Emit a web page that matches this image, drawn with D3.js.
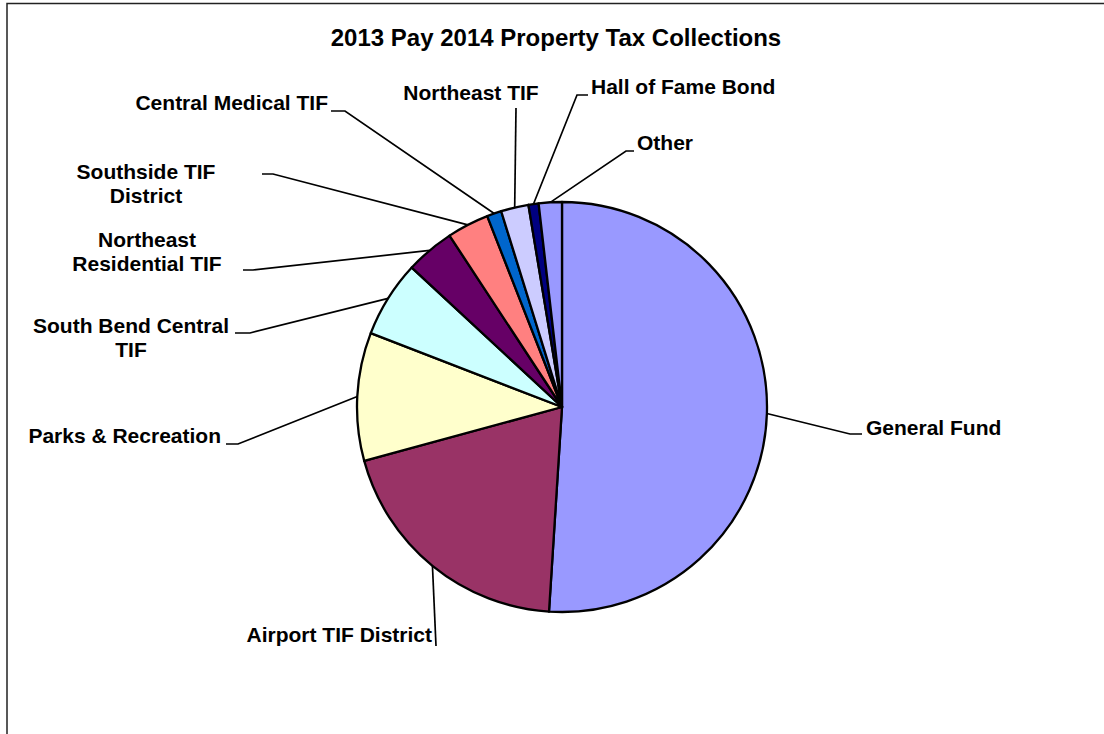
<!DOCTYPE html>
<html>
<head>
<meta charset="utf-8">
<script src="https://cdn.jsdelivr.net/npm/d3@7"></script>
<style>
  body { margin: 0; background: #fff; }
  svg text { font-family: "Liberation Sans", Arial, sans-serif; font-weight: bold; fill: #000; }
</style>
</head>
<body>
<svg width="1104" height="734"></svg>
<script>
// slice data, clockwise from 12 o'clock (percent of total)
const categories = ["General Fund", "Airport TIF District", "Parks & Recreation", "South Bend Central TIF",
  "Northeast Residential TIF", "Southside TIF District", "Central Medical TIF", "Northeast TIF",
  "Hall of Fame Bond", "Other"];
const values = [51.0, 19.75, 10.1, 6.04, 3.85, 3.3, 1.15, 2.17, 0.8, 1.82];
const fills = ["#9999FF", "#993366", "#FFFFCC", "#CCFFFF", "#660066", "#FF8080", "#0066CC", "#CCCCFF", "#000080", "#9999FF"];

// label layout: text lines, anchor, baselines, and the elbow point of the leader + horizontal stub
const labelLines = [["General Fund"], ["Airport TIF District"], ["Parks & Recreation"], ["South Bend Central", "TIF"],
  ["Northeast", "Residential TIF"], ["Southside TIF", "District"], ["Central Medical TIF"], ["Northeast TIF"],
  ["Hall of Fame Bond"], ["Other"]];
const labelPos = [
  { x: 866, y: 435, anchor: "start", elbow: [850, 434], stub: 862 },
  { x: 432, y: 642, anchor: "end", elbow: [436, 646], stub: null },
  { x: 221, y: 443, anchor: "end", elbow: [238, 444], stub: 226 },
  { x: 131, y: 333, anchor: "middle", elbow: [250, 333], stub: 235 },
  { x: 147, y: 247, anchor: "middle", elbow: [253, 270], stub: 243 },
  { x: 146, y: 179, anchor: "middle", elbow: [273, 174], stub: 262 },
  { x: 328, y: 110, anchor: "end", elbow: [345, 111], stub: 331 },
  { x: 471, y: 100, anchor: "middle", elbow: [516, 108], stub: null },
  { x: 591, y: 94, anchor: "start", elbow: [577, 95], stub: 588 },
  { x: 637, y: 150, anchor: "start", elbow: [626, 151], stub: 634 }
];

const svg = d3.select("svg");
const cx = 562, cy = 407, R = 205;

// outer frame (partly cut off at right/bottom)
svg.append("rect").attr("x", 7).attr("y", 3.5).attr("width", 1200).attr("height", 800)
  .attr("fill", "none").attr("stroke", "#222").attr("stroke-width", 1.5);

svg.append("text").attr("x", 556).attr("y", 46).attr("text-anchor", "middle")
  .attr("font-size", 24).text("2013 Pay 2014 Property Tax Collections");

const data = categories.map((c, i) => ({ name: c, value: values[i], color: fills[i], lines: labelLines[i], pos: labelPos[i] }));
const pie = d3.pie().sort(null).value(d => d.value);
const arcs = pie(data);
const arc = d3.arc().innerRadius(0).outerRadius(R);
const edge = d3.arc().innerRadius(R).outerRadius(R);

const g = svg.append("g").attr("transform", `translate(${cx},${cy})`);
g.selectAll("path.slice").data(arcs).join("path")
  .attr("class", "slice")
  .attr("d", arc)
  .attr("fill", d => d.data.color)
  .attr("stroke", "#000")
  .attr("stroke-width", 2.3)
  .attr("stroke-linejoin", "round");

// leader lines
arcs.forEach(d => {
  const [ex, ey] = edge.centroid(d);
  const p = d.data.pos;
  const pts = [[cx + ex, cy + ey], p.elbow];
  if (p.stub !== null) pts.push([p.stub, p.elbow[1]]);
  svg.append("path").attr("d", d3.line()(pts))
    .attr("fill", "none").attr("stroke", "#000").attr("stroke-width", 1.7);
});

// labels
data.forEach(d => {
  const t = svg.append("text").attr("font-size", 21).attr("text-anchor", d.pos.anchor);
  d.lines.forEach((ln, i) => {
    t.append("tspan").attr("x", d.pos.x).attr("y", d.pos.y + i * 23.5).text(ln);
  });
});
</script>
</body>
</html>
